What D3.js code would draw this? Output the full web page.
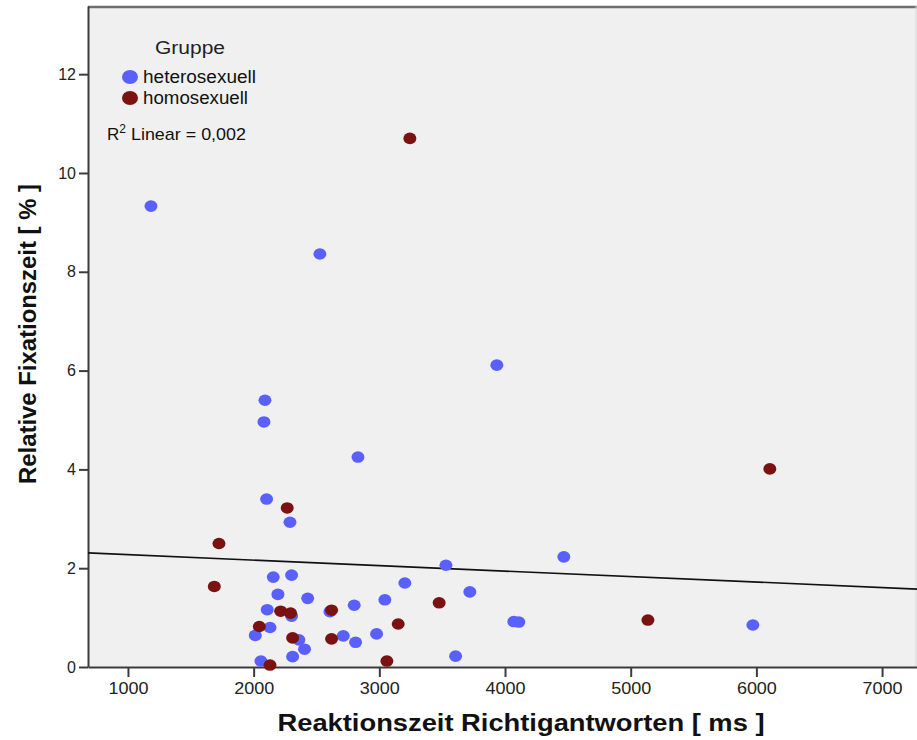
<!DOCTYPE html>
<html>
<head>
<meta charset="utf-8">
<script src="https://cdn.jsdelivr.net/npm/d3@7"></script>
<style>
body { margin: 0; background: #fff; }
text { font-family: "Liberation Sans", Arial, sans-serif; }
</style>
</head>
<body>
<script>
// heterosexuell: [reaction time ms, fixation %]
var heteroX = [1183, 2527, 3935, 2090, 2082, 2830, 2103, 2289, 4468, 3530, 2156, 2302, 3203, 3720, 2193, 2430, 3044, 2800,
               2108, 2302, 2607, 2130, 2013, 2360, 2713, 2978, 2811, 2405, 2310, 3607, 2058, 4070, 4110, 5972];
var heteroY = [9.33, 8.36, 6.11, 5.40, 4.96, 4.25, 3.40, 2.93, 2.23, 2.06, 1.82, 1.86, 1.70, 1.52, 1.47, 1.39, 1.36, 1.25,
               1.16, 1.03, 1.12, 0.80, 0.64, 0.55, 0.63, 0.67, 0.50, 0.36, 0.21, 0.22, 0.12, 0.92, 0.91, 0.85];
// homosexuell
var homoX = [3243, 6107, 2267, 1724, 1687, 3476, 2215, 2294, 2620, 3150, 2045, 2310, 2620, 3060, 2130, 5137];
var homoY = [10.70, 4.01, 3.22, 2.50, 1.63, 1.30, 1.13, 1.09, 1.15, 0.87, 0.82, 0.59, 0.57, 0.12, 0.04, 0.95];

var xTicks = [1000, 2000, 3000, 4000, 5000, 6000, 7000];
var yTicks = [0, 2, 4, 6, 8, 10, 12];
var groups = ["heterosexuell", "homosexuell"];
var fitIntercept = 2.385, fitSlope = -0.000111;
var r2Text = "0,002";

var width = 917, height = 740;
var margin = {left: 88, top: 6, bottom: 667, right: 917};

var x = d3.scaleLinear().domain([682, 7278]).range([margin.left, margin.right]);
var y = d3.scaleLinear().domain([0, 13.38]).range([margin.bottom, margin.top]);
var color = d3.scaleOrdinal().domain(groups).range(["#5a60ff", "#7a1212"]);

var svg = d3.select("body").append("svg").attr("width", width).attr("height", height);
svg.append("rect").attr("width", width).attr("height", height).attr("fill", "#fff");

svg.append("rect")
  .attr("x", margin.left).attr("y", margin.top)
  .attr("width", margin.right - margin.left + 5).attr("height", margin.bottom - margin.top)
  .attr("fill", "#f0f0f0");

// frame top + faint right edge
svg.append("line").attr("x1", margin.left).attr("x2", margin.right)
  .attr("y1", margin.top + 1).attr("y2", margin.top + 1)
  .attr("stroke", "#6e6e6e").attr("stroke-width", 2.5);
svg.append("line").attr("x1", margin.right - 1).attr("x2", margin.right - 1)
  .attr("y1", margin.top).attr("y2", margin.bottom)
  .attr("stroke", "#d8d8d8").attr("stroke-width", 1);

// axes
var xAxis = svg.append("g").attr("transform", "translate(0," + margin.bottom + ")")
  .call(d3.axisBottom(x).tickValues(xTicks).tickSizeInner(10).tickSizeOuter(0).tickPadding(5).tickFormat(d3.format("d")));
var yAxis = svg.append("g").attr("transform", "translate(" + margin.left + ",0)")
  .call(d3.axisLeft(y).tickValues(yTicks).tickSizeInner(9).tickSizeOuter(0).tickPadding(3).tickFormat(d3.format("d")));

[xAxis, yAxis].forEach(function(a){
  a.select(".domain").attr("stroke", "#3c3c3c").attr("stroke-width", 2);
  a.selectAll(".tick line").attr("stroke", "#3c3c3c").attr("stroke-width", 2);
  a.selectAll(".tick text").attr("fill", "#222").attr("font-size", 16)
    .attr("font-family", "'Liberation Sans', Arial, sans-serif");
});
xAxis.selectAll(".tick text").attr("font-size", 17)
  .attr("textLength", 40).attr("lengthAdjust", "spacingAndGlyphs");

// fit line
var fx = x.domain();
svg.append("line")
  .attr("x1", x(fx[0])).attr("y1", y(fitIntercept + fitSlope * fx[0]))
  .attr("x2", x(fx[1])).attr("y2", y(fitIntercept + fitSlope * fx[1]))
  .attr("stroke", "#111").attr("stroke-width", 1.6);

// points
var hetero = heteroX.map(function(v, i){ return {x: v, y: heteroY[i], g: groups[0]}; });
var homo = homoX.map(function(v, i){ return {x: v, y: homoY[i], g: groups[1]}; });

svg.append("g").selectAll("ellipse")
  .data(hetero.concat(homo))
  .enter().append("ellipse")
    .attr("cx", function(d){ return x(d.x); })
    .attr("cy", function(d){ return y(d.y); })
    .attr("rx", 6.5).attr("ry", 5.8)
    .attr("fill", function(d){ return color(d.g); });

// legend
var lg = svg.append("g");
lg.append("text").attr("x", 155).attr("y", 54).attr("font-size", 18).attr("fill", "#222")
  .attr("textLength", 70).attr("lengthAdjust", "spacingAndGlyphs").text("Gruppe");
var legLen = [113, 105];
groups.forEach(function(g, i){
  lg.append("ellipse").attr("cx", 130).attr("cy", 77 + i * 21).attr("rx", 8).attr("ry", 7).attr("fill", color(g));
  lg.append("text").attr("x", 143).attr("y", 83 + i * 21).attr("font-size", 18).attr("fill", "#111")
    .attr("textLength", legLen[i]).attr("lengthAdjust", "spacingAndGlyphs").text(g);
});
var r2 = lg.append("text").attr("x", 107).attr("y", 140).attr("font-size", 17).attr("fill", "#111");
r2.append("tspan").text("R");
r2.append("tspan").attr("font-size", 12).attr("dy", -7).text("2");
r2.append("tspan").attr("dy", 7).attr("textLength", 120).attr("lengthAdjust", "spacingAndGlyphs")
  .text(" Linear = " + r2Text);

// axis titles
svg.append("text")
  .attr("x", 521).attr("y", 731)
  .attr("text-anchor", "middle")
  .attr("font-size", 23).attr("font-weight", "bold").attr("fill", "#111")
  .attr("textLength", 487).attr("lengthAdjust", "spacingAndGlyphs")
  .text("Reaktionszeit Richtigantworten [ ms ]");

svg.append("text")
  .attr("transform", "translate(36,334) rotate(-90)")
  .attr("text-anchor", "middle")
  .attr("font-size", 23).attr("font-weight", "bold").attr("fill", "#111")
  .attr("textLength", 300).attr("lengthAdjust", "spacingAndGlyphs")
  .text("Relative Fixationszeit [ % ]");
</script>
</body>
</html>
